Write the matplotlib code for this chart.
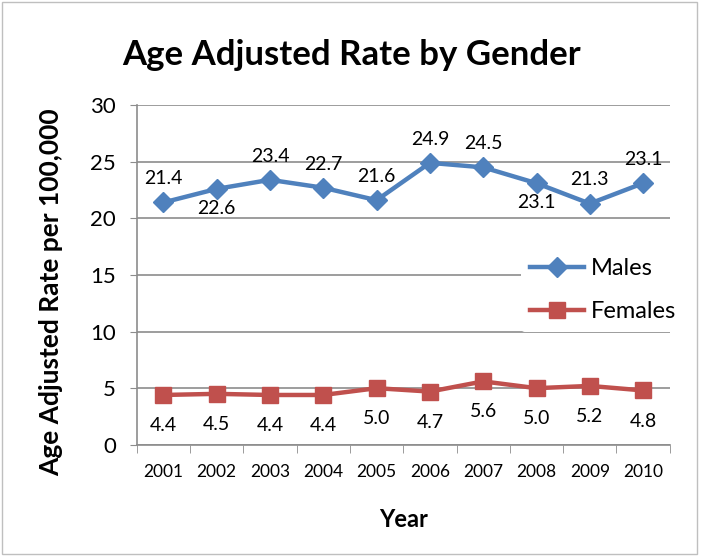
import numpy as np
import matplotlib.pyplot as plt
from matplotlib.patches import Rectangle

plt.rcParams['font.family'] = ['Lato', 'DejaVu Sans']

# Datos del gráfico
years = ['2001', '2002', '2003', '2004', '2005', '2006', '2007', '2008', '2009', '2010']
males = [21.4, 22.6, 23.4, 22.7, 21.6, 24.9, 24.5, 23.1, 21.3, 23.1]
females = [4.4, 4.5, 4.4, 4.4, 5.0, 4.7, 5.6, 5.0, 5.2, 4.8]
males_label_below = [False, True, False, False, False, False, False, True, False, False]

blue = '#4F81BD'
red = '#C0504D'
grid = '#8C8C8C'

fig = plt.figure(figsize=(7.05, 5.56), dpi=100)
ax = fig.add_axes([0.194, 0.2, 0.756, 0.611])

x = np.arange(len(years))
ax.plot(x, males, color=blue, lw=3.2, marker='D', ms=10, label='Males', zorder=3)
ax.plot(x, females, color=red, lw=3.2, marker='s', ms=11, label='Females', zorder=3)

for xi, v, below in zip(x, males, males_label_below):
    ax.annotate(f'{v:.1f}', (xi, v), xytext=(0, -14 if below else 17),
                textcoords='offset points', ha='center', va='center', fontsize=14)
for xi, v in zip(x, females):
    ax.annotate(f'{v:.1f}', (xi, v), xytext=(0, -22), textcoords='offset points',
                ha='center', va='center', fontsize=14)

ax.set_xlim(-0.5, len(years) - 0.5)
ax.set_ylim(0, 30)
ax.set_yticks(np.arange(0, 31, 5))
ax.set_xticks(x)
ax.set_xticklabels(years, fontsize=12.5)
ax.set_xticks(np.arange(-0.5, len(years)), minor=True)
ax.tick_params(axis='x', which='major', length=0, pad=14)
ax.tick_params(axis='x', which='minor', length=6, color=grid, direction='out')
ax.tick_params(axis='y', length=5, color=grid, labelsize=16, pad=10)
ax.yaxis.grid(True, color=grid, lw=1.2)
ax.set_axisbelow(True)
for s in ['top', 'right']:
    ax.spines[s].set_visible(False)
for s in ['left', 'bottom']:
    ax.spines[s].set_color(grid)
    ax.spines[s].set_linewidth(1.2)

fig.text(0.498, 0.901, 'Age Adjusted Rate by Gender', fontsize=25, fontweight='bold',
         ha='center', va='center')
fig.text(0.072, 1 - 292 / 556, 'Age Adjusted Rate per 100,000', fontsize=19,
         fontweight='bold', rotation=90, ha='center', va='center')
ax.set_xlabel('Year', fontsize=17, fontweight='bold', labelpad=20)

leg = ax.legend(loc='center left', bbox_to_anchor=(0.72, 0.455), fontsize=17, frameon=True,
                framealpha=1, edgecolor='white', handlelength=2.3, labelspacing=0.95,
                borderpad=0.4, handletextpad=0.3, borderaxespad=0)
leg.get_frame().set_linewidth(0)

fig.patches.append(Rectangle((0.003, 0.003), 0.985, 0.994, transform=fig.transFigure,
                             fill=False, edgecolor='#BFBFBF', lw=1))

fig.savefig('out.png', dpi=100)
